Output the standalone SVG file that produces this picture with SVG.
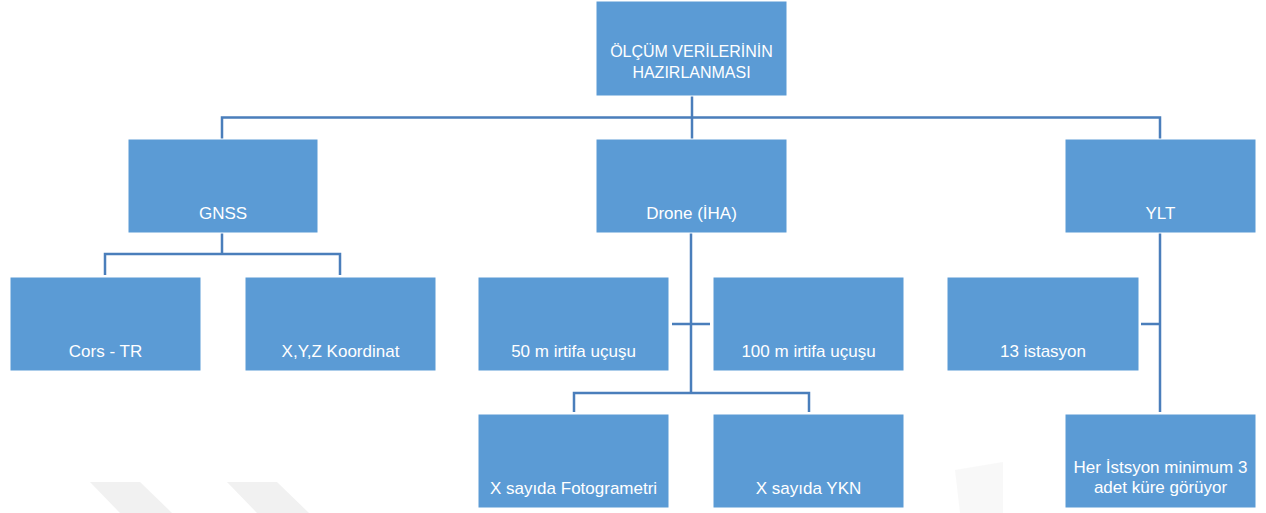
<svg xmlns="http://www.w3.org/2000/svg" width="1266" height="513" viewBox="0 0 1266 513">
<style>
.box{fill:#5B9BD5;stroke:#ffffff;stroke-width:1}
.lbl{font-family:"Liberation Sans",Arial,sans-serif;font-size:17px;fill:#ffffff;text-anchor:middle}
.top{font-size:16px}
.con{fill:none;stroke:#4A7EBB;stroke-width:2.5}
.wm{fill:#f1f1f1}
</style>
<rect x="0" y="0" width="1266" height="513" fill="#ffffff"/>
<g id="watermark">
<polygon class="wm" points="90,482 140,482 172,513 120,513"/>
<polygon class="wm" points="227,482 277,482 309,513 257,513"/>
<polygon class="wm" points="955,470 1003,462 1003,513 960,513" opacity="0.5"/>
</g>
<g id="connectors">
<path class="con" d="M692,96 V139"/>
<path class="con" d="M222,139 V117.5 H1160 V139"/>
<path class="con" d="M222,233 V254 M105,275 V254 H340 V275"/>
<path class="con" d="M691,233 V393 M672,324 H710 M574,412 V393 H809 V412"/>
<path class="con" d="M1160,233 V412 M1141,324 H1160"/>
</g>
<g id="n-root"><rect class="box" x="596" y="1" width="191" height="95"/>
<text class="lbl top" x="691.5" y="57">ÖLÇÜM VERİLERİNİN</text>
<text class="lbl top" x="691.5" y="78">HAZIRLANMASI</text></g>
<g id="n-gnss"><rect class="box" x="128" y="139" width="190" height="94"/>
<text class="lbl" x="223" y="219">GNSS</text></g>
<g id="n-drone"><rect class="box" x="596" y="139" width="191" height="94"/>
<text class="lbl" x="691.5" y="219">Drone (İHA)</text></g>
<g id="n-ylt"><rect class="box" x="1065" y="139" width="191" height="94"/>
<text class="lbl" x="1160.5" y="219">YLT</text></g>
<g id="n-cors"><rect class="box" x="10" y="277" width="191" height="94"/>
<text class="lbl" x="105.5" y="357">Cors - TR</text></g>
<g id="n-xyz"><rect class="box" x="245" y="277" width="191" height="94"/>
<text class="lbl" x="340.5" y="357">X,Y,Z Koordinat</text></g>
<g id="n-50m"><rect class="box" x="478" y="277" width="191" height="94"/>
<text class="lbl" x="573.5" y="357">50 m irtifa uçuşu</text></g>
<g id="n-100m"><rect class="box" x="713" y="277" width="191" height="94"/>
<text class="lbl" x="808.5" y="357">100 m irtifa uçuşu</text></g>
<g id="n-13ist"><rect class="box" x="947" y="277" width="192" height="94"/>
<text class="lbl" x="1043" y="357">13 istasyon</text></g>
<g id="n-foto"><rect class="box" x="478" y="414" width="191" height="94"/>
<text class="lbl" x="573.5" y="494">X sayıda Fotogrametri</text></g>
<g id="n-ykn"><rect class="box" x="713" y="414" width="191" height="94"/>
<text class="lbl" x="808.5" y="494">X sayıda YKN</text></g>
<g id="n-her"><rect class="box" x="1065" y="414" width="191" height="94"/>
<text class="lbl" x="1160.5" y="473">Her İstsyon minimum 3</text>
<text class="lbl" x="1160.5" y="493">adet küre görüyor</text></g>
</svg>
